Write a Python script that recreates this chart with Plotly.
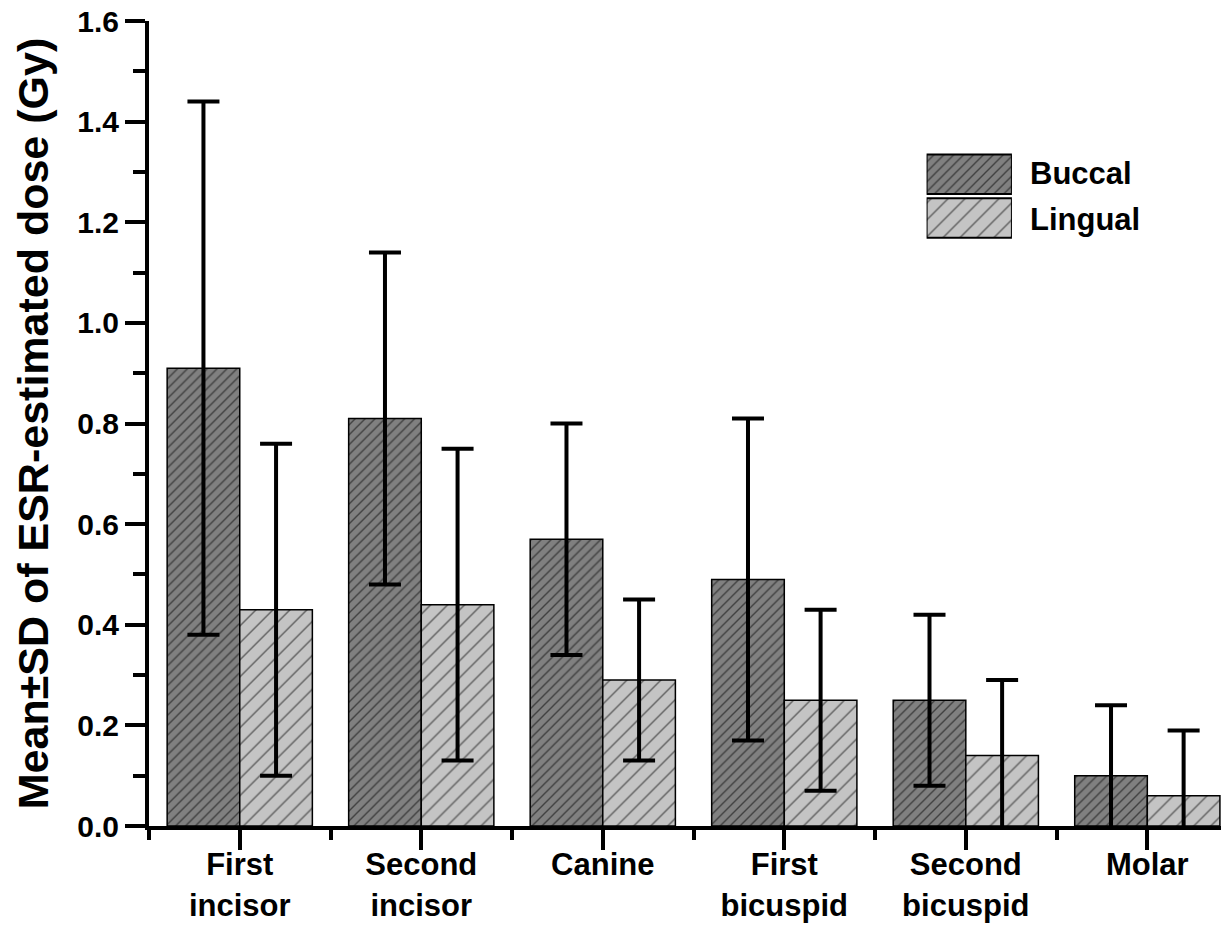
import plotly.graph_objects as go

categories = ["First<br>incisor", "Second<br>incisor", "Canine", "First<br>bicuspid", "Second<br>bicuspid", "Molar"]
buccal_mean = [0.91, 0.81, 0.57, 0.49, 0.25, 0.10]
buccal_sd = [0.53, 0.33, 0.23, 0.32, 0.17, 0.14]
lingual_mean = [0.43, 0.44, 0.29, 0.25, 0.14, 0.06]
lingual_sd = [0.33, 0.31, 0.16, 0.18, 0.15, 0.13]
y_ticks = [0.0, 0.2, 0.4, 0.6, 0.8, 1.0, 1.2, 1.4, 1.6]

FONT = "Liberation Sans, Arial, sans-serif"
xpos = list(range(len(categories)))

BUCCAL_MARKER = dict(color="#808080", line=dict(color="black", width=1.5),
                     pattern=dict(shape="/", fgcolor="black", bgcolor="#808080", size=7, solidity=0.2))
LINGUAL_MARKER = dict(color="#c4c4c4", line=dict(color="black", width=1.5),
                      pattern=dict(shape="/", fgcolor="black", bgcolor="#c4c4c4", size=12, solidity=0.12))

fig = go.Figure()
fig.add_trace(go.Bar(
    x=xpos, y=buccal_mean, name="Buccal", marker=BUCCAL_MARKER,
    error_y=dict(type="data", array=buccal_sd, visible=True, color="black", thickness=4, width=16),
    showlegend=False,
))
fig.add_trace(go.Bar(
    x=xpos, y=lingual_mean, name="Lingual", marker=LINGUAL_MARKER,
    error_y=dict(type="data", array=lingual_sd, visible=True, color="black", thickness=4, width=16),
    showlegend=False,
))

# legend swatches drawn in an inset axis
leg_b = dict(BUCCAL_MARKER, line=dict(color="black", width=2))
leg_l = dict(LINGUAL_MARKER, line=dict(color="black", width=2))
fig.add_trace(go.Bar(x=[1], y=[1], orientation="h", xaxis="x2", yaxis="y2", width=0.9,
                     marker=leg_b, showlegend=False, hoverinfo="skip"))
fig.add_trace(go.Bar(x=[1], y=[0], orientation="h", xaxis="x2", yaxis="y2", width=0.9,
                     marker=leg_l, showlegend=False, hoverinfo="skip"))

fig.update_layout(
    width=1221, height=918,
    margin=dict(l=141, r=0, t=13, b=100, autoexpand=False),
    paper_bgcolor="white", plot_bgcolor="white",
    barmode="group", bargap=0.2, bargroupgap=0,
    font=dict(family=FONT, color="black"),
    xaxis=dict(
        range=[-0.5, 5.45], tickvals=xpos, ticktext=["<b>%s</b>" % c for c in categories],
        ticks="outside", ticklen=20, tickwidth=4, tickcolor="black", automargin=False,
        ticklabeloverflow="allow", ticklabelstandoff=-12,
        showline=True, linewidth=4, linecolor="black", showgrid=False, zeroline=False,
        tickfont=dict(size=31, family=FONT),
        minor=dict(tickvals=[-0.5, 0.5, 1.5, 2.5, 3.5, 4.5], ticks="outside", ticklen=10, tickwidth=4, tickcolor="black"),
    ),
    yaxis=dict(
        range=[0, 1.6], tickvals=y_ticks, ticktext=["<b>%.1f</b>" % v for v in y_ticks],
        ticks="outside", ticklen=20, tickwidth=4, tickcolor="black", automargin=False,
        ticklabeloverflow="allow",
        showline=True, linewidth=4, linecolor="black", showgrid=False, zeroline=False,
        tickfont=dict(size=30, family=FONT),
        minor=dict(dtick=0.1, ticks="outside", ticklen=12, tickwidth=4, tickcolor="black"),
        title=dict(text="<b>Mean±SD of ESR-estimated dose (Gy)</b>", font=dict(size=43, family=FONT), standoff=16),
    ),
    xaxis2=dict(domain=[0.720, 0.799], range=[0, 1], visible=False, fixedrange=True),
    yaxis2=dict(domain=[0.728, 0.837], range=[-0.5, 1.5], visible=False, fixedrange=True, anchor="x2"),
    annotations=[
        dict(text="<b>Buccal</b>", x=0.814, y=0.810, xref="paper", yref="paper", xanchor="left", yanchor="middle",
             showarrow=False, font=dict(size=31, family=FONT)),
        dict(text="<b>Lingual</b>", x=0.814, y=0.753, xref="paper", yref="paper", xanchor="left", yanchor="middle",
             showarrow=False, font=dict(size=31, family=FONT)),
    ],
)

fig.write_html("out.html")
